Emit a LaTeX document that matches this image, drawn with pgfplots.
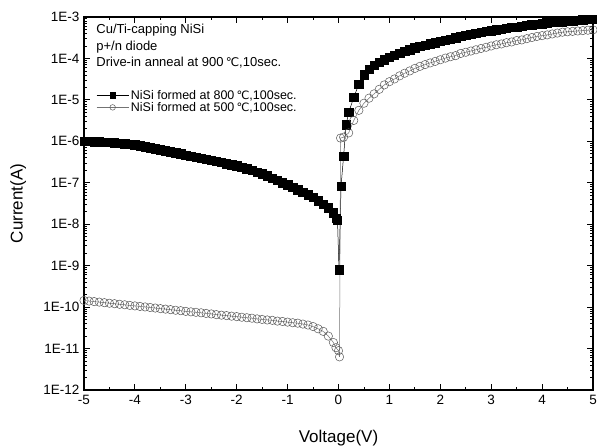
\documentclass[border=0pt]{standalone}
\usepackage{fontspec}
\setmainfont{Liberation Sans}
\newfontfamily\dejavu[Scale=0.92]{DejaVu Sans}
\usepackage{pgfplots}
\pgfplotsset{compat=1.18}
\newcommand{\degC}{{\dejavu ℃}}
\begin{document}
\begin{tikzpicture}
\useasboundingbox (-84bp,-58bp) rectangle (513bp,390bp);
\begin{axis}[
  scale only axis, width=509bp, height=373bp,
  at={(0,0)}, anchor=south west,
  xmin=-5, xmax=5, ymin=1e-12, ymax=1e-3, ymode=log,
  xtick={-5,-4,-3,-2,-1,0,1,2,3,4,5},
  xticklabels={-5,-4,-3,-2,-1,0,1,2,3,4,5},
  minor x tick num=1,
  ytick={1e-12,1e-11,1e-10,1e-9,1e-8,1e-7,1e-6,1e-5,1e-4,1e-3},
  yticklabels={1E-12,1E-11,1E-10,1E-9,1E-8,1E-7,1E-6,1E-5,1E-4,1E-3},
  tick align=inside,
  major tick length=6bp, minor tick length=3bp,
  axis line style={line width=1.2bp},
  every tick/.style={black, line width=0.8bp},
  tick label style={font=\fontsize{13.5bp}{16bp}\selectfont},
  xticklabel style={yshift=-2bp},
  yticklabel style={xshift=-1bp},
  /pgf/number format/assume math mode=true,
  xlabel={Voltage(V)}, ylabel={Current(A)},
  every axis x label/.style={at={(axis description cs:0.5,-0.129)}, anchor=center, font=\fontsize{17bp}{19bp}\selectfont},
  every axis y label/.style={at={(axis description cs:-0.129,0.5)}, rotate=90, anchor=center, font=\fontsize{17bp}{19bp}\selectfont},
  legend cell align=left,
  legend style={draw=none, fill=none, at={(0.024,0.81)}, anchor=north west,
    font=\fontsize{12.5bp}{14bp}\selectfont, inner sep=0pt, row sep=-2.5bp},
  legend image code/.code={\draw[mark repeat=2,mark phase=2, mark size=2.8bp] plot coordinates {(0bp,0bp)(16bp,0bp)(32bp,0bp)};},
  clip=true,
]
\addplot[black, line width=0.5bp, mark=square*, mark size=4.2bp, mark options={solid, fill=black}] coordinates {
(-5.0,1.00e-6)(-4.9,9.9e-7)(-4.8,9.8e-7)(-4.7,9.7e-7)(-4.6,9.6e-7)(-4.5,9.5e-7)
(-4.4,9.3e-7)(-4.3,9.0e-7)(-4.2,8.8e-7)(-4.1,8.55e-7)(-4.0,8.3e-7)
(-3.9,7.9e-7)(-3.8,7.45e-7)(-3.7,7.05e-7)(-3.6,6.67e-7)(-3.5,6.3e-7)
(-3.4,5.94e-7)(-3.3,5.6e-7)(-3.2,5.27e-7)(-3.1,4.97e-7)(-3.0,4.68e-7)
(-2.9,4.4e-7)(-2.8,4.15e-7)(-2.7,3.91e-7)(-2.6,3.68e-7)(-2.5,3.47e-7)
(-2.4,3.27e-7)(-2.3,3.08e-7)(-2.2,2.9e-7)(-2.1,2.73e-7)(-2.0,2.57e-7)
(-1.9,2.35e-7)(-1.8,2.16e-7)(-1.7,1.98e-7)(-1.6,1.81e-7)(-1.5,1.66e-7)
(-1.4,1.47e-7)(-1.3,1.29e-7)(-1.2,1.14e-7)(-1.1,1.01e-7)(-1.0,8.9e-8)
(-0.9,7.76e-8)(-0.8,6.76e-8)(-0.7,5.89e-8)(-0.6,5.13e-8)(-0.5,4.47e-8)
(-0.4,3.72e-8)(-0.3,3.0e-8)(-0.2,2.5e-8)(-0.1,1.9e-8)(-0.05,1.4e-8)(-0.02,1.26e-8)
(0.01,8e-10)(0.05,8.3e-8)(0.1,4.4e-7)(0.15,2.5e-6)(0.2,5.0e-6)
(0.3,1.15e-5)(0.4,2.4e-5)(0.5,4.0e-5)(0.6,5.4e-5)(0.7,6.8e-5)(0.8,8.1e-5)(0.9,9.3e-5)
(1.0,1.07e-4)(1.1,1.2e-4)(1.2,1.35e-4)(1.3,1.48e-4)(1.4,1.62e-4)(1.5,1.82e-4)
(1.6,1.95e-4)(1.7,2.09e-4)(1.8,2.24e-4)(1.9,2.4e-4)(2.0,2.57e-4)
(2.1,2.75e-4)(2.2,2.95e-4)(2.3,3.16e-4)(2.4,3.39e-4)(2.5,3.63e-4)
(2.6,3.8e-4)(2.7,4.07e-4)(2.8,4.27e-4)(2.9,4.47e-4)(3.0,4.68e-4)
(3.1,4.9e-4)(3.2,5.13e-4)(3.3,5.37e-4)(3.4,5.62e-4)(3.5,5.75e-4)
(3.6,6.03e-4)(3.7,6.31e-4)(3.8,6.46e-4)(3.9,6.76e-4)(4.0,6.92e-4)
(4.1,7.24e-4)(4.2,7.41e-4)(4.3,7.59e-4)(4.4,7.76e-4)(4.5,7.94e-4)
(4.6,8.13e-4)(4.7,8.32e-4)(4.8,8.51e-4)(4.9,8.71e-4)(5.0,8.91e-4)
};
\addlegendentry{NiSi formed at 800\,\degC,100sec.}
\addplot[black!55, line width=0.5bp, mark=o, mark size=4.2bp, mark options={solid, draw=black!65, fill=black!15, line width=0.5bp}] coordinates {
(-5.0,1.45e-10)(-4.9,1.40e-10)(-4.8,1.36e-10)(-4.7,1.32e-10)(-4.6,1.28e-10)(-4.5,1.24e-10)
(-4.4,1.21e-10)(-4.3,1.17e-10)(-4.2,1.14e-10)(-4.1,1.10e-10)(-4.0,1.07e-10)
(-3.9,1.04e-10)(-3.8,1.01e-10)(-3.7,9.8e-11)(-3.6,9.5e-11)(-3.5,9.2e-11)
(-3.4,8.95e-11)(-3.3,8.7e-11)(-3.2,8.4e-11)(-3.1,8.2e-11)(-3.0,7.9e-11)
(-2.9,7.7e-11)(-2.8,7.5e-11)(-2.7,7.3e-11)(-2.6,7.05e-11)(-2.5,6.85e-11)
(-2.4,6.6e-11)(-2.3,6.4e-11)(-2.2,6.25e-11)(-2.1,6.05e-11)(-2.0,5.9e-11)
(-1.9,5.7e-11)(-1.8,5.55e-11)(-1.7,5.4e-11)(-1.6,5.2e-11)(-1.5,5.05e-11)
(-1.4,4.9e-11)(-1.3,4.8e-11)(-1.2,4.6e-11)(-1.1,4.5e-11)(-1.0,4.35e-11)
(-0.9,4.2e-11)(-0.8,4.1e-11)(-0.7,3.9e-11)(-0.6,3.7e-11)(-0.5,3.4e-11)
(-0.4,3.0e-11)(-0.3,2.6e-11)(-0.2,2.0e-11)(-0.1,1.4e-11)(-0.05,1.05e-11)
(0.0,8.9e-12)(0.02,6.3e-12)(0.04,1.2e-6)
(0.1,1.26e-6)(0.2,1.6e-6)(0.3,3.2e-6)(0.4,5.6e-6)(0.5,8.3e-6)
(0.6,1.1e-5)(0.7,1.4e-5)(0.8,1.8e-5)(0.9,2.3e-5)(1.0,2.75e-5)
(1.1,3.2e-5)(1.2,3.8e-5)(1.3,4.4e-5)(1.4,5.0e-5)(1.5,5.75e-5)
(1.6,6.45e-5)(1.7,7.1e-5)(1.8,7.8e-5)(1.9,8.5e-5)(2.0,9.3e-5)
(2.1,1.02e-4)(2.2,1.10e-4)(2.3,1.17e-4)(2.4,1.32e-4)(2.5,1.41e-4)
(2.6,1.51e-4)(2.7,1.62e-4)(2.8,1.74e-4)(2.9,1.86e-4)(3.0,2.0e-4)
(3.1,2.14e-4)(3.2,2.24e-4)(3.3,2.4e-4)(3.4,2.5e-4)(3.5,2.7e-4)
(3.6,2.8e-4)(3.7,3.0e-4)(3.8,3.2e-4)(3.9,3.4e-4)(4.0,3.55e-4)
(4.1,3.7e-4)(4.2,3.9e-4)(4.3,4.1e-4)(4.4,4.3e-4)(4.5,4.4e-4)
(4.6,4.5e-4)(4.7,4.6e-4)(4.8,4.7e-4)(4.9,4.8e-4)(5.0,4.9e-4)
};
\addlegendentry{NiSi formed at 500\,\degC,100sec.}
\node[anchor=west, inner sep=0pt, font=\fontsize{13bp}{15bp}\selectfont] at (rel axis cs:0.024,0.965) {Cu/Ti-capping NiSi};
\node[anchor=west, inner sep=0pt, font=\fontsize{13bp}{15bp}\selectfont] at (rel axis cs:0.024,0.92) {p+/n diode};
\node[anchor=west, inner sep=0pt, font=\fontsize{13bp}{15bp}\selectfont] at (rel axis cs:0.024,0.877) {Drive-in anneal at 900\,\degC,10sec.};
\end{axis}
\end{tikzpicture}
\end{document}
